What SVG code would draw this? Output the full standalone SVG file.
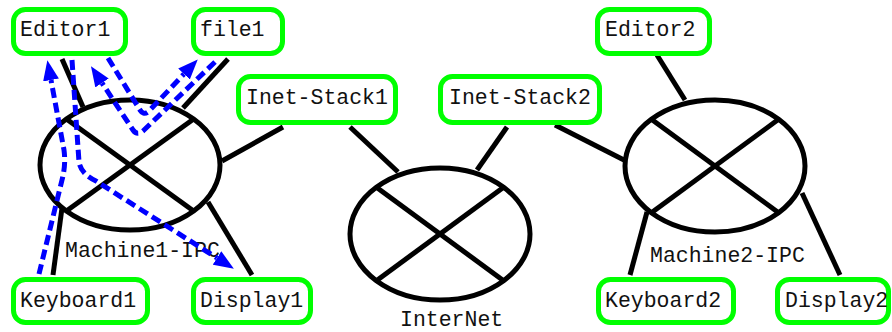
<svg xmlns="http://www.w3.org/2000/svg" width="892" height="332" viewBox="0 0 892 332">
  <defs>
    <style>
      .box { fill: #ffffff; stroke: #00ff00; stroke-width: 5; }
      .lbl { font-family: "Liberation Mono", "Courier New", monospace; font-size: 21.5px; fill: #111111; }
      .ipc { fill: #ffffff; stroke: #000000; stroke-width: 5; }
      .ln { stroke: #000000; stroke-width: 5; fill: none; }
      .flow { stroke: #0000ff; stroke-width: 5; fill: none; stroke-dasharray: 10 5; stroke-linejoin: round; }
    </style>
    <marker id="ah" markerUnits="userSpaceOnUse" markerWidth="20" markerHeight="16" refX="0" refY="8" orient="auto">
      <path d="M0,0 L20,8 L0,16 z" fill="#0000ff"/>
    </marker>
  </defs>
  <rect width="892" height="332" fill="#ffffff"/>

  <g id="connectors">
    <line class="ln" x1="62" y1="59" x2="83" y2="107"/>
    <line class="ln" x1="228" y1="59" x2="183" y2="108"/>
    <line class="ln" x1="283" y1="127" x2="222" y2="161"/>
    <line class="ln" x1="62" y1="208" x2="53" y2="275"/>
    <line class="ln" x1="208" y1="202" x2="252" y2="275"/>
    <line class="ln" x1="350" y1="127" x2="398" y2="172"/>
    <line class="ln" x1="507" y1="127" x2="477" y2="170"/>
    <line class="ln" x1="555" y1="125" x2="624" y2="160"/>
    <line class="ln" x1="657" y1="55" x2="685" y2="100"/>
    <line class="ln" x1="647" y1="212" x2="630" y2="275"/>
    <line class="ln" x1="802" y1="193" x2="840" y2="275"/>
  </g>

  <g id="Machine1-IPC">
    <ellipse class="ipc" cx="130" cy="165" rx="90" ry="65"/>
    <line class="ln" x1="66.4" y1="119" x2="193.6" y2="211"/>
    <line class="ln" x1="66.4" y1="211" x2="193.6" y2="119"/>
    <text class="lbl" x="65" y="257">Machine1-IPC</text>
  </g>
  <g id="InterNet">
    <ellipse class="ipc" cx="440" cy="234" rx="90" ry="66"/>
    <line class="ln" x1="376.4" y1="187.3" x2="503.6" y2="280.7"/>
    <line class="ln" x1="376.4" y1="280.7" x2="503.6" y2="187.3"/>
    <text class="lbl" x="400" y="326">InterNet</text>
  </g>
  <g id="Machine2-IPC">
    <ellipse class="ipc" cx="715" cy="166" rx="90" ry="66"/>
    <line class="ln" x1="651.4" y1="119.3" x2="778.6" y2="212.7"/>
    <line class="ln" x1="651.4" y1="212.7" x2="778.6" y2="119.3"/>
    <text class="lbl" x="650" y="262">Machine2-IPC</text>
  </g>

  <g id="Editor1">
    <rect class="box" x="13.5" y="9.5" width="112" height="44" rx="12"/>
    <text class="lbl" x="20" y="36">Editor1</text>
  </g>
  <g id="file1">
    <rect class="box" x="193.5" y="9.5" width="89" height="44" rx="12"/>
    <text class="lbl" x="200" y="36">file1</text>
  </g>
  <g id="Inet-Stack1">
    <rect class="box" x="238.5" y="76.5" width="157" height="46" rx="12"/>
    <text class="lbl" x="246" y="104">Inet-Stack1</text>
  </g>
  <g id="Inet-Stack2">
    <rect class="box" x="440.5" y="76.5" width="159" height="46" rx="12"/>
    <text class="lbl" x="449" y="104">Inet-Stack2</text>
  </g>
  <g id="Editor2">
    <rect class="box" x="597.5" y="9.5" width="112" height="44" rx="12"/>
    <text class="lbl" x="605" y="36">Editor2</text>
  </g>
  <g id="Keyboard1">
    <rect class="box" x="13.5" y="279.5" width="134" height="43" rx="12"/>
    <text class="lbl" x="20" y="307">Keyboard1</text>
  </g>
  <g id="Display1">
    <rect class="box" x="193.5" y="279.5" width="117" height="43" rx="12"/>
    <text class="lbl" x="200" y="307">Display1</text>
  </g>
  <g id="Keyboard2">
    <rect class="box" x="598.5" y="279.5" width="135" height="43" rx="12"/>
    <text class="lbl" x="605" y="307">Keyboard2</text>
  </g>
  <g id="Display2">
    <rect class="box" x="777.5" y="279.5" width="111" height="43" rx="12"/>
    <text class="lbl" x="785" y="307">Display2</text>
  </g>

  <g id="flows">
    <path class="flow" marker-end="url(#ah)" d="M39,274 L62,180 Q66,165 64,150 L51,80"/>
    <path class="flow" marker-end="url(#ah)" d="M72,60 L79,162 Q81,174 96,181 L217,258"/>
    <path class="flow" marker-end="url(#ah)" d="M108,58 L140,110 Q144,116 149,111 L184,74"/>
    <path class="flow" marker-end="url(#ah)" d="M215,62 L143,131 Q137,136 133,130 L102,83"/>
  </g>
</svg>
